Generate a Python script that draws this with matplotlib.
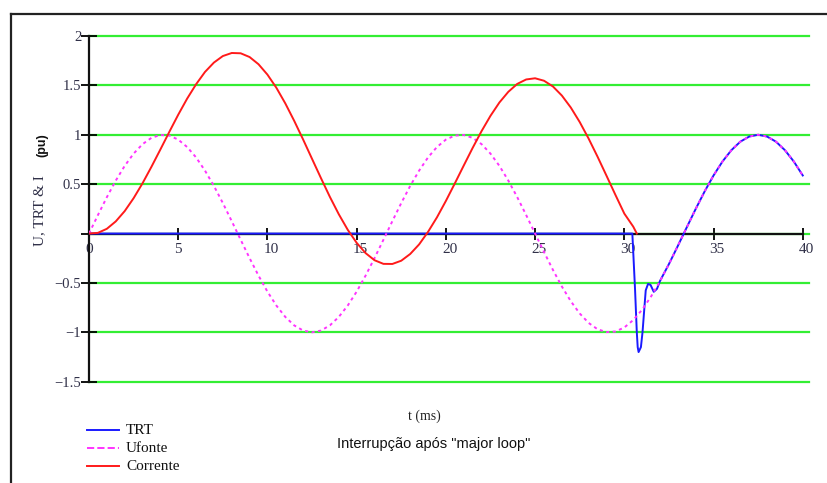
import numpy as np
import matplotlib.pyplot as plt
from matplotlib.lines import Line2D
from matplotlib.transforms import ScaledTranslation

# dados (t em ms, valores em pu)
t_ufonte = [0.0, 0.5, 1.0, 1.5, 2.0, 2.5, 3.0, 3.5, 4.0, 4.5,
            5.0, 5.5, 6.0, 6.5, 7.0, 7.5, 8.0, 8.5, 9.0, 9.5,
            10.0, 10.5, 11.0, 11.5, 12.0, 12.5, 13.0, 13.5, 14.0, 14.5,
            15.0, 15.5, 16.0, 16.5, 17.0, 17.5, 18.0, 18.5, 19.0, 19.5,
            20.0, 20.5, 21.0, 21.5, 22.0, 22.5, 23.0, 23.5, 24.0, 24.5,
            25.0, 25.5, 26.0, 26.5, 27.0, 27.5, 28.0, 28.5, 29.0, 29.5,
            30.0, 30.5, 31.0, 31.5, 32.0, 32.5, 33.0, 33.5, 34.0, 34.5,
            35.0, 35.5, 36.0, 36.5, 37.0, 37.5, 38.0, 38.5, 39.0, 39.5,
            40.0]
ufonte = [0.000, 0.187, 0.368, 0.536, 0.685, 0.809, 0.905, 0.969, 0.998, 0.992,
          0.951, 0.876, 0.771, 0.637, 0.482, 0.309, 0.125, -0.063, -0.249, -0.426,
          -0.588, -0.729, -0.844, -0.930, -0.982, -1.000, -0.982, -0.930, -0.844, -0.729,
          -0.588, -0.426, -0.249, -0.063, 0.125, 0.309, 0.482, 0.637, 0.771, 0.876,
          0.951, 0.992, 0.998, 0.969, 0.905, 0.809, 0.685, 0.536, 0.368, 0.187,
          0.000, -0.187, -0.368, -0.536, -0.685, -0.809, -0.905, -0.969, -0.998, -0.992,
          -0.951, -0.876, -0.771, -0.637, -0.482, -0.309, -0.125, 0.063, 0.249, 0.426,
          0.588, 0.729, 0.844, 0.930, 0.982, 1.000, 0.982, 0.930, 0.844, 0.729,
          0.588]

t_corrente = t_ufonte[:62] + [30.7]
corrente = [0.000, 0.007, 0.048, 0.123, 0.227, 0.358, 0.509, 0.676, 0.851, 1.029,
            1.203, 1.366, 1.511, 1.636, 1.731, 1.797, 1.828, 1.825, 1.787, 1.714,
            1.609, 1.476, 1.318, 1.141, 0.952, 0.756, 0.561, 0.371, 0.195, 0.038,
            -0.094, -0.198, -0.270, -0.307, -0.308, -0.275, -0.207, -0.110, 0.017, 0.164,
            0.330, 0.507, 0.688, 0.867, 1.037, 1.192, 1.327, 1.435, 1.515, 1.560,
            1.572, 1.547, 1.489, 1.397, 1.276, 1.129, 0.961, 0.778, 0.586, 0.392,
            0.202, 0.070, 0.000]

t_trt = [0.0, 30.45, 30.6, 30.7, 30.75, 30.8, 30.93, 31.02, 31.1, 31.2,
         31.33, 31.47, 31.65, 31.83, 32.0] + t_ufonte[65:]
trt = [0.0, 0.0, -0.56, -1.0, -1.15, -1.2, -1.15, -1.0, -0.81, -0.575,
       -0.51, -0.52, -0.59, -0.56, -0.48] + ufonte[65:]

x_ticks = [0, 5, 10, 15, 20, 25, 30, 35, 40]
y_ticks = [-1.5, -1, -0.5, 0, 0.5, 1, 1.5, 2]
y_labels = ['\u22121.5', '\u22121', '\u22120.5', '', '0.5', '1', '1.5', '2']

serif = 'Liberation Serif'
sans = 'Liberation Sans'
txt_color = '#303048'

fig = plt.figure(figsize=(8.28, 4.83), dpi=100)
ax = fig.add_axes([89 / 828, 1 - 381.7 / 483, (809 - 89) / 828, (381.7 - 36) / 483])

ax.plot(t_trt, trt, color='#1a1aff', lw=1.4, zorder=4, label='TRT')
ax.plot(t_ufonte, ufonte, color='#ff33ff', lw=1.4, ls=(0, (1.6, 1.8)), zorder=5, label='Ufonte')
ax.plot(t_corrente, corrente, color='#ff1a1a', lw=1.4, zorder=6, label='Corrente')

ax.set_xlim(0, 40.35)
ax.set_ylim(-1.5, 2)
ax.set_xticks(x_ticks)
ax.set_yticks(y_ticks)
ax.set_yticklabels(y_labels)
ax.yaxis.grid(True, color='#33ee33', lw=1.6, zorder=1)
ax.set_axisbelow(True)
for gl in ax.get_ygridlines():
    gl.set_clip_on(False)

for s in ['top', 'right']:
    ax.spines[s].set_visible(False)
ax.spines['bottom'].set_position(('data', 0))
ax.spines['bottom'].set_bounds(0, 40)
ax.spines['left'].set_bounds(-1.5, 2)
for s in ['bottom', 'left']:
    ax.spines[s].set_linewidth(1.6)
    ax.spines[s].set_color('#111111')
    ax.spines[s].set_zorder(3)

ax.tick_params(axis='x', direction='inout', length=9, width=1.3, pad=2,
               labelsize=11, labelcolor=txt_color)
ax.tick_params(axis='y', direction='inout', length=11, width=1.3, pad=0,
               labelsize=10.5, labelcolor=txt_color)
for lab in ax.get_xticklabels():
    lab.set_fontfamily(serif)
    lab.set_horizontalalignment('left')
    lab.set_transform(lab.get_transform() + ScaledTranslation(-4 / 100, 0, fig.dpi_scale_trans))
for lab in ax.get_yticklabels():
    lab.set_fontfamily(serif)

# eixo y: rotulo
fig.text(40 / 828, 1 - 211 / 483, 'U, TRT & I', rotation=90, ha='center', va='center',
         family=serif, fontsize=11, color=txt_color)
fig.text(42 / 828, 1 - 145 / 483, '(pu)', rotation=90, ha='center', va='center',
         family=sans, fontsize=9, fontweight='bold', color='#111111')

fig.text(424 / 828, 1 - 416 / 483, 't (ms)', ha='center', va='center',
         family=serif, fontsize=10, color='#222222')
fig.text(434 / 828, 1 - 444 / 483, 'Interrupção após "major loop"', ha='center', va='center',
         family=sans, fontsize=10.5, color='#111111')

# legenda
leg_rows = [430, 448, 466]
for line, y in zip(ax.get_lines(), leg_rows):
    fig.add_artist(Line2D([87 / 828, 119 / 828], [1 - y / 483, 1 - y / 483],
                          color=line.get_color(), lw=1.4, ls=line.get_linestyle()))
    fig.text(126 / 828, 1 - y / 483, line.get_label(), ha='left', va='center',
             family=serif, fontsize=11, color='#111111')

# moldura
fig.add_artist(Line2D([10.5 / 828, 1], [1 - 13.5 / 483, 1 - 13.5 / 483], color='#222222', lw=1.6))
fig.add_artist(Line2D([10.5 / 828, 10.5 / 828], [0, 1 - 13.5 / 483], color='#222222', lw=1.6))

fig.savefig('out.png', dpi=100)
